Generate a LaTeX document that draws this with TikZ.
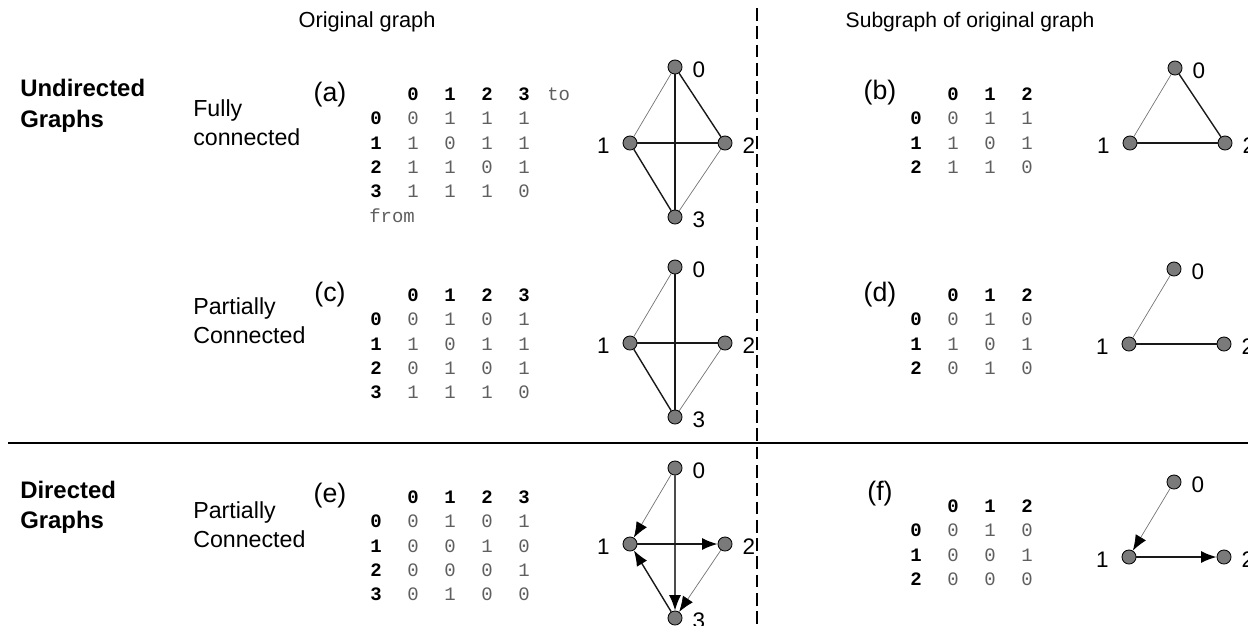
\documentclass[tikz,border=0pt]{standalone}
\usepackage{fontspec}
\setmainfont{Liberation Sans}
\setmonofont{Liberation Mono}
\usetikzlibrary{arrows.meta}
\definecolor{colVtx}{RGB}{122,122,122}
\definecolor{colEnt}{RGB}{95,95,95}

\begin{document}
\begin{tikzpicture}[x=0.025cm, y=-0.025cm,
    >={Latex[length=11pt,width=8.5pt,black]},
    vtx/.style={circle, draw=black, line width=0.6pt, fill=colVtx,
                minimum size=10pt, inner sep=0pt},
    vlbl/.style={font=\fontsize{16}{18}\selectfont, inner sep=0pt},
    thinedge/.style={black!55, line width=0.5pt},
    boldedge/.style={black!90, line width=1pt},
    hdr/.style={font=\ttfamily\bfseries\fontsize{13.5}{15}\selectfont, inner sep=0pt},
    ent/.style={font=\ttfamily\fontsize{13.5}{15}\selectfont, text=colEnt, inner sep=0pt},
    txt/.style={font=\fontsize{16.5}{19}\selectfont, anchor=west, inner sep=0pt},
    ttl/.style={font=\fontsize{17}{20}\selectfont\bfseries, anchor=west, inner sep=0pt},
    tag/.style={font=\fontsize{19}{22}\selectfont, inner sep=0pt}]

\useasboundingbox (0,0) rectangle (1248,625);

\def\dc{37}
\def\dr{24.4}

% Matrice d'adjacence : nom, x colonne 0, y en-tete, dernier indice, lignes
\def\adjmat#1#2#3#4#5{%
    \foreach \c in {0,...,#4}
        \node[hdr] (#1h\c) at (#2+\c*\dc, #3) {\c};
    \foreach \vals [count=\r from 0] in {#5} {
        \node[hdr] (#1r\r) at (#2-\dc, #3+\dr+\r*\dr) {\r};
        \foreach \v [count=\c from 0] in \vals
            \node[ent] (#1\r\c) at (#2+\c*\dc, #3+\dr+\r*\dr) {\v};
    }%
}

% Separateurs
\draw[line width=1.1pt] (8,443) -- (1248,443);
\draw[line width=0.9pt, dash pattern=on 9pt off 4pt] (757,8) -- (757,625);

% Titres
\node[font=\fontsize{15.5}{18}\selectfont] (orig) at (367,22) {Original graph};
\node[font=\fontsize{15}{18}\selectfont] (sub) at (970,22) {Subgraph of original graph};
\node[ttl] (und1) at (20,88) {Undirected};
\node[ttl] (und2) at (20,121) {Graphs};
\node[ttl] (dir1) at (20,490) {Directed};
\node[ttl] (dir2) at (20,522) {Graphs};

\node[txt] (fc1) at (193,110) {Fully};
\node[txt] (fc2) at (193,137) {connected};
\node[txt] (pc1) at (193,308) {Partially};
\node[txt] (pc2) at (193,335) {Connected};
\node[txt] (pe1) at (193,512) {Partially};
\node[txt] (pe2) at (193,539) {Connected};

\node[tag] (ta) at (330,95) {(a)};
\node[tag] (tb) at (880,93) {(b)};
\node[tag] (tc) at (330,295) {(c)};
\node[tag] (td) at (880,295) {(d)};
\node[tag] (te) at (330,496) {(e)};
\node[tag] (tf) at (880,494) {(f)};

% Matrices
\adjmat{a}{413}{94}{3}{{0,1,1,1},{1,0,1,1},{1,1,0,1},{1,1,1,0}}
\node[ent, anchor=west] (ato) at (547,94) {to};
\node[ent, anchor=west] (afrom) at (369,216) {from};
\adjmat{b}{953}{94}{2}{{0,1,1},{1,0,1},{1,1,0}}
\adjmat{c}{413}{295}{3}{{0,1,0,1},{1,0,1,1},{0,1,0,1},{1,1,1,0}}
\adjmat{d}{953}{295}{2}{{0,1,0},{1,0,1},{0,1,0}}
\adjmat{e}{413}{497}{3}{{0,1,0,1},{0,0,1,0},{0,0,0,1},{0,1,0,0}}
\adjmat{f}{953}{506}{2}{{0,1,0},{0,0,1},{0,0,0}}

% Graphes : sommets
\foreach \g/\gx/\gy in {a/675/67, c/675/267, e/675/468} {
    \node[vtx, label={[vlbl, label distance=7pt, yshift=-2pt]right:0}] (\g0) at (\gx,\gy) {};
    \node[vtx, label={[vlbl, label distance=9pt, yshift=-2pt]left:1}] (\g1) at (\gx-45,\gy+76) {};
    \node[vtx, label={[vlbl, label distance=7pt, yshift=-2pt]right:2}] (\g2) at (\gx+50,\gy+76) {};
    \node[vtx, label={[vlbl, label distance=7pt, yshift=-2pt]right:3}] (\g3) at (\gx,\gy+150) {};
}
\foreach \g/\gx/\gy in {b/1175/68, d/1174/269, f/1174/482} {
    \node[vtx, label={[vlbl, label distance=7pt, yshift=-2pt]right:0}] (\g0) at (\gx,\gy) {};
    \node[vtx, label={[vlbl, label distance=9pt, yshift=-2pt]left:1}] (\g1) at (\gx-45,\gy+75) {};
    \node[vtx, label={[vlbl, label distance=7pt, yshift=-2pt]right:2}] (\g2) at (\gx+50,\gy+75) {};
}

% Aretes (a)
\draw[thinedge] (a0) -- (a1);
\draw[boldedge] (a0) -- (a2);
\draw[boldedge] (a0) -- (a3);
\draw[boldedge] (a1) -- (a2);
\draw[boldedge] (a1) -- (a3);
\draw[thinedge] (a2) -- (a3);
% Aretes (b)
\draw[thinedge] (b0) -- (b1);
\draw[boldedge] (b0) -- (b2);
\draw[boldedge] (b1) -- (b2);
% Aretes (c)
\draw[thinedge] (c0) -- (c1);
\draw[boldedge] (c0) -- (c3);
\draw[boldedge] (c1) -- (c2);
\draw[boldedge] (c1) -- (c3);
\draw[thinedge] (c2) -- (c3);
% Aretes (d)
\draw[thinedge] (d0) -- (d1);
\draw[boldedge] (d1) -- (d2);
% Arcs (e)
\draw[thinedge, ->] (e0) -- (e1);
\draw[boldedge, black!70, ->] (e0) -- (e3);
\draw[boldedge, ->] (e1) -- (e2);
\draw[thinedge, ->] (e2) -- (e3);
\draw[boldedge, ->] (e3) -- (e1);
% Arcs (f)
\draw[thinedge, ->] (f0) -- (f1);
\draw[boldedge, ->] (f1) -- (f2);

\end{tikzpicture}
\end{document}
